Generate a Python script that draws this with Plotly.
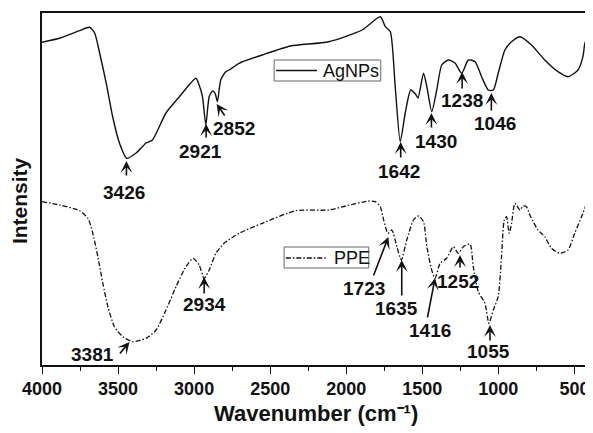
import plotly.graph_objects as go

# ---- data (wavenumber in cm-1, intensity in arbitrary units) ----
agnps_wn = [4000, 3880, 3753, 3687, 3654, 3621, 3578, 3535, 3491, 3443, 3381, 3316, 3274,
            3185, 3098, 2988, 2967, 2945, 2923, 2901, 2879, 2862, 2847, 2825, 2792, 2770,
            2704, 2552, 2366, 2115, 1896, 1776, 1743, 1710, 1678, 1645, 1612, 1576, 1545,
            1528, 1492, 1470, 1438, 1405, 1372, 1328, 1284, 1241, 1197, 1153, 1110, 1066,
            1033, 1001, 957, 913, 858, 782, 695, 608, 542, 476, 444, 429, 411, 404]
agnps_int = [322.7, 327, 334.3, 337.7, 332, 312, 282, 248, 222, 206.7, 212, 222, 225,
             252, 268, 286.7, 280, 268.3, 240, 268.3, 274, 271.7, 263.3, 285, 293.3, 295,
             301.7, 310, 319, 323.3, 335, 348.3, 338.3, 333.3, 278.3, 223.3, 252, 275, 271,
             267, 291.7, 278.3, 253.3, 275, 300, 305, 301.7, 291.7, 305, 303.3, 288.3, 275,
             275, 291.7, 315, 323.3, 328.3, 320, 305, 293.3, 288.3, 295, 308.3, 323.3, 311.7, 310]

ppe_wn = [4000, 3884, 3753, 3698, 3666, 3633, 3600, 3567, 3524, 3469, 3404, 3316, 3250,
          3185, 3119, 3054, 3006, 2967, 2934, 2901, 2857, 2803, 2704, 2552, 2333, 2115,
          2005, 1853, 1809, 1776, 1754, 1726, 1700, 1667, 1638, 1602, 1558, 1525, 1492,
          1470, 1438, 1416, 1383, 1340, 1296, 1263, 1230, 1186, 1165, 1132, 1088, 1062,
          1033, 1001, 979, 961, 946, 929, 913, 891, 858, 837, 815, 793, 771, 739, 695,
          651, 596, 542, 498, 444, 411, 404]
ppe_int = [163.3, 160, 154.3, 146.7, 131.7, 108.3, 81.7, 58.3, 38.3, 28.3, 23.3, 26.7, 35,
           55, 78.3, 98.3, 106.7, 100, 86.7, 95, 111.7, 121.7, 131.7, 141.7, 154.3, 155,
           159, 164, 163.3, 158.3, 145, 131.7, 135, 118.3, 105, 125, 145, 149, 143.3,
           118.3, 95, 86.7, 101.7, 106.7, 118.3, 111.7, 118.3, 121, 98.3, 73.3, 61.7, 41.7,
           55, 68.3, 108.3, 145, 148.3, 131.7, 141.7, 161.7, 155, 159, 158.3, 150, 143.3, 135, 128.3,
           116.7, 111.7, 115, 131.7, 151.7, 165, 167]

# peak labels
peak_labels = ["3426", "2921", "2852", "1642", "1430", "1238", "1046",
               "3381", "2934", "1723", "1635", "1416", "1252", "1055"]
peak_tip_wn = [3445, 2921, 2852, 1642, 1440, 1238, 1046,
               3425, 2934, 1723, 1635, 1416, 1252, 1055]
peak_tip_int = [204, 241, 261, 223, 252, 293, 272,
                23, 88, 128, 105, 87, 110, 40]
arrow_dx = [0, 0, 8.4, 0, 0, 0, 0, -10, 0, -15, 0, -7.7, 0, 0]
arrow_dy = [15, 14, 12, 16, 15, 17, 18, 12, 17, 39, 36, 40, 13, 16]
label_wn = [3458, 2955, 2737, 1654, 1412, 1237, 1025,
            3666, 2929, 1881, 1669, 1451, 1265, 1066]
label_int = [173, 213.3, 236.7, 193.3, 223.3, 265, 241.7,
             11, 61, 76.7, 56.7, 34.3, 83.3, 13.3]

legend_names = ["AgNPs", "PPE"]

xtick_vals = [4000, 3500, 3000, 2500, 2000, 1500, 1000, 500]

FONT = "Arial, Liberation Sans, sans-serif"
INK = "#111111"
PPE_DASH = "5px,2px,1.5px,2px"

fig = go.Figure()
fig.add_trace(go.Scatter(x=agnps_wn, y=agnps_int, mode="lines", name=legend_names[0],
                         line=dict(color=INK, width=1.4, shape="spline", smoothing=0.6),
                         showlegend=False))
fig.add_trace(go.Scatter(x=ppe_wn, y=ppe_int, mode="lines", name=legend_names[1],
                         line=dict(color=INK, width=1.3, shape="spline", smoothing=0.6,
                                   dash=PPE_DASH),
                         showlegend=False))

annotations = []
for lab, tx, ty, dx, dy, lx, ly in zip(peak_labels, peak_tip_wn, peak_tip_int,
                                        arrow_dx, arrow_dy, label_wn, label_int):
    annotations.append(dict(x=tx, y=ty, xref="x", yref="y", text="", showarrow=True,
                            ax=dx, ay=dy, arrowhead=3, arrowsize=1.25, arrowwidth=1.6,
                            arrowcolor=INK, borderpad=0, standoff=0))
    annotations.append(dict(x=lx, y=ly, xref="x", yref="y", text="<b>%s</b>" % lab,
                            showarrow=False, font=dict(family=FONT, size=19, color=INK),
                            xanchor="center", yanchor="middle"))

# legend boxes (paper coordinates inside the plot frame)
leg_box = [(0.4244, 0.8068, 0.6193, 0.8665), (0.4426, 0.2756, 0.5974, 0.3352)]
leg_line = [(0.428, 0.5027, 0.8366), (0.4457, 0.5186, 0.304)]
leg_text_x = [0.51, 0.5306]
leg_dash = ["solid", PPE_DASH]

shapes = []
for i, name in enumerate(legend_names):
    bx0, by0, bx1, by1 = leg_box[i]
    shapes.append(dict(type="rect", xref="paper", yref="paper", x0=bx0, y0=by0, x1=bx1, y1=by1,
                       line=dict(color="#666", width=1), fillcolor="white", layer="above"))
    lx0, lx1, ly = leg_line[i]
    shapes.append(dict(type="line", xref="paper", yref="paper", x0=lx0, x1=lx1, y0=ly, y1=ly,
                       line=dict(color=INK, width=1.3, dash=leg_dash[i]), layer="above"))
    annotations.append(dict(x=leg_text_x[i], y=ly, xref="paper", yref="paper", text=name,
                            showarrow=False, xanchor="left", yanchor="middle",
                            font=dict(family=FONT, size=18, color=INK)))

# axis titles
annotations.append(dict(x=0.501, y=-0.099, xref="paper", yref="paper",
                        text="<b>Wavenumber (cm\u207b\u00b9)</b>", showarrow=False,
                        xanchor="center", yanchor="top", borderpad=0,
                        font=dict(family=FONT, size=22, color=INK)))
annotations.append(dict(x=-0.040, y=0.466, xref="paper", yref="paper",
                        text="<b>Intensity</b>", showarrow=False, textangle=-90,
                        xanchor="center", yanchor="middle", borderpad=0,
                        font=dict(family=FONT, size=21, color=INK)))

fig.update_layout(
    width=585, height=425,
    margin=dict(l=34, r=2, t=5, b=68),
    paper_bgcolor="white", plot_bgcolor="white",
    font=dict(family=FONT, color=INK),
    showlegend=False,
    annotations=annotations,
    shapes=shapes,
    xaxis=dict(range=[4000, 404], tickvals=xtick_vals,
               ticktext=[str(v) for v in xtick_vals],
               ticks="outside", ticklen=7, tickwidth=1.4, tickcolor=INK,
               minor=dict(dtick=250, tick0=0, ticks="outside", ticklen=4, tickwidth=1.3, tickcolor=INK),
               showline=True, linewidth=1.7, linecolor=INK, mirror=True,
               showgrid=False, zeroline=False,
               tickfont=dict(family=FONT, size=18, color=INK, weight="bold")),
    yaxis=dict(range=[0, 352], showticklabels=False, ticks="",
               showline=True, linewidth=1.7, linecolor=INK, mirror=True,
               showgrid=False, zeroline=False),
)

fig.write_html("out.html")
